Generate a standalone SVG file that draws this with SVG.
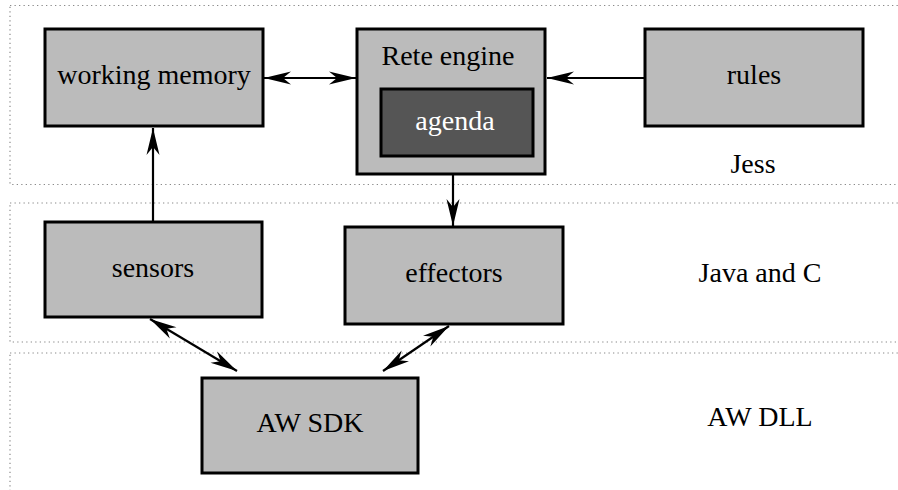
<svg xmlns="http://www.w3.org/2000/svg" width="898" height="490" viewBox="0 0 898 490">
  <style>
    .panel { fill: none; stroke: #8a8a8a; stroke-width: 1.2; stroke-dasharray: 1.3 3.2; }
    .box { fill: #bbbbbb; stroke: #000; stroke-width: 3; }
    .inner { fill: #555555; stroke: #000; stroke-width: 3; }
    .lbl { font-family: 'Liberation Serif', 'DejaVu Serif', 'Times New Roman', serif; font-size: 28px; fill: #000; text-anchor: middle; }
    .lbl-w { fill: #fff; }
    .edge { fill: none; stroke: #000; stroke-width: 2.2; }
  </style>
  <defs>
    <!-- barbed arrowhead, tip at the line end -->
    <marker id="head" viewBox="-28 -8 29 16" refX="0" refY="0" markerWidth="29" markerHeight="16" markerUnits="userSpaceOnUse" orient="auto-start-reverse">
      <path d="M0,0 L-27,-6.5 L-19,0 L-27,6.5 Z" fill="#000"/>
    </marker>
  </defs>

  <!-- layer frames -->
  <g id="layers">
    <rect class="panel" x="10" y="5.5" width="900" height="179"/>
    <rect class="panel" x="10" y="203" width="900" height="139"/>
    <rect class="panel" x="10" y="353" width="900" height="150"/>
    <text class="lbl" x="753" y="173">Jess</text>
    <text class="lbl" x="760" y="282">Java and C</text>
    <text class="lbl" x="760" y="426">AW DLL</text>
  </g>

  <!-- connectors -->
  <g id="connectors">
    <line class="edge" x1="264" y1="78" x2="356" y2="78" marker-start="url(#head)" marker-end="url(#head)"/>
    <line class="edge" x1="645" y1="78" x2="547" y2="78" marker-end="url(#head)"/>
    <line class="edge" x1="153" y1="222" x2="153" y2="128" marker-end="url(#head)"/>
    <line class="edge" x1="453" y1="175" x2="453" y2="226" marker-end="url(#head)"/>
    <line class="edge" x1="150" y1="319" x2="237" y2="371" marker-start="url(#head)" marker-end="url(#head)"/>
    <line class="edge" x1="449" y1="326" x2="383" y2="371" marker-start="url(#head)" marker-end="url(#head)"/>
  </g>

  <g id="working-memory">
    <rect class="box" x="45" y="29" width="218" height="97"/>
    <text class="lbl" x="154" y="84">working memory</text>
  </g>

  <g id="rete-engine">
    <rect class="box" x="357" y="29" width="188" height="145"/>
    <text class="lbl" x="448" y="65">Rete engine</text>
  </g>

  <g id="agenda">
    <rect class="inner" x="381" y="89" width="152" height="67"/>
    <text class="lbl lbl-w" x="455" y="130">agenda</text>
  </g>

  <g id="rules">
    <rect class="box" x="645" y="29" width="218" height="97"/>
    <text class="lbl" x="754" y="84">rules</text>
  </g>

  <g id="sensors">
    <rect class="box" x="45" y="222" width="217" height="95"/>
    <text class="lbl" x="153" y="277">sensors</text>
  </g>

  <g id="effectors">
    <rect class="box" x="345" y="227" width="218" height="97"/>
    <text class="lbl" x="454" y="282">effectors</text>
  </g>

  <g id="aw-sdk">
    <rect class="box" x="202" y="378" width="216" height="95"/>
    <text class="lbl" x="310" y="432">AW SDK</text>
  </g>
</svg>
